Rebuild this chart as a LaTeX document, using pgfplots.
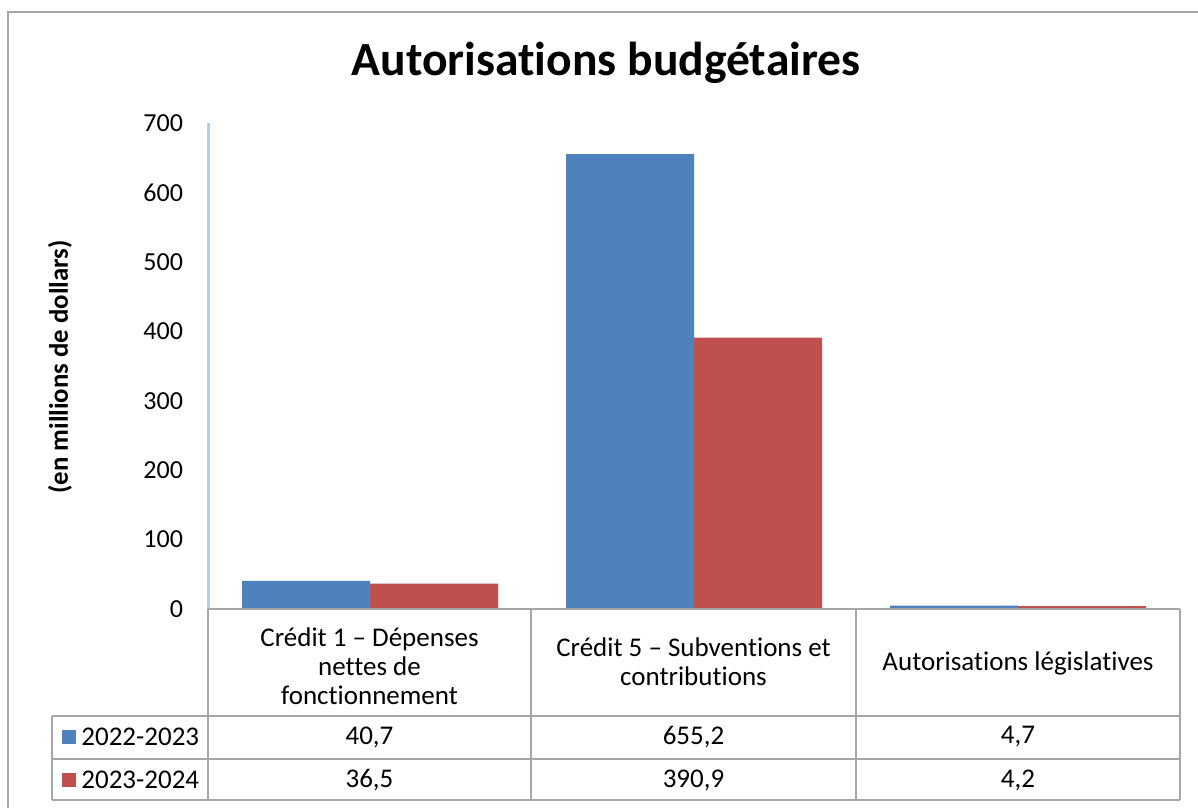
\documentclass[border=0pt]{standalone}
\usepackage{fontspec}
\setmainfont{Carlito}[Ligatures=CommonOff]
\usepackage{pgfplots}
\pgfplotsset{compat=1.18}

\definecolor{bleu}{HTML}{4F81BD}
\definecolor{rouge}{HTML}{C0504D}
\definecolor{trait}{HTML}{A6A6A6}
\definecolor{axe}{HTML}{B9CDE5}

% valeurs (en millions de dollars)
\pgfplotstableread{
x v
0 40.7
1 655.2
2 4.7
}\anneeA
\pgfplotstableread{
x v
0 36.5
1 390.9
2 4.2
}\anneeB

\begin{document}
\begin{tikzpicture}
% cadre, titre, libelle de l'axe (unites : pixels de la reference)
\begin{scope}[x=0.5pt,y=-0.5pt]
  \path[use as bounding box] (0,0) rectangle (1198,808);
  \draw[trait, line width=1pt] (8,808) -- (8,12) -- (1198,12);
  \node[font=\bfseries\fontsize{23.8}{28}\selectfont] at (606,63) {Autorisations budgétaires};
  \node[rotate=90, font=\bfseries\fontsize{13.4}{15}\selectfont] at (60,367) {(en millions de dollars)};
\end{scope}

\begin{axis}[
    at={(104pt,-304.5pt)}, anchor=south west,
    scale only axis, width=486pt, height=243pt,
    xmin=-0.5, xmax=2.5,
    ymin=0, ymax=700, ytick={0,100,...,700},
    ybar=0pt, bar width=64pt,
    axis x line=none, axis y line*=left,
    y axis line style={draw=axe, line width=1.5pt, -},
    major tick length=0pt,
    yticklabel style={font=\fontsize{13}{15}\selectfont, xshift=-9pt},
    /pgf/number format/assume math mode=true,
    clip=false,
  ]
  \addplot[fill=bleu, draw=none] table[x=x, y=v] {\anneeA};
  \addplot[fill=rouge, draw=none] table[x=x, y=v] {\anneeB};
\end{axis}

% tableau de donnees sous le graphique
\begin{scope}[x=0.5pt,y=-0.5pt]
  \begin{scope}[trait, line width=1pt]
    \draw (208,609) -- (1180,609);
    \draw (52,716) -- (1180,716);
    \draw (52,759) -- (1180,759);
    \draw (52,800) -- (1180,800);
    \foreach \x in {208,531,856,1180} \draw (\x,609) -- (\x,800);
    \draw (52,716) -- (52,800);
  \end{scope}
  \begin{scope}[every node/.style={font=\fontsize{13.5}{14.5}\selectfont, align=center, inner sep=0pt}]
    \node at (369.5,666) {Crédit 1 – Dépenses\\nettes de\\fonctionnement};
    \node at (693.5,662) {Crédit 5 – Subventions et\\contributions};
    \node at (1018,663) {Autorisations législatives};
    \node at (369.5,737) {40,7};
    \node at (693.5,737) {655,2};
    \node at (1018,737) {4,7};
    \node at (369.5,780) {36,5};
    \node at (693.5,780) {390,9};
    \node at (1018,780) {4,2};
    \fill[bleu] (62,730) rectangle (76,744);
    \fill[rouge] (62,773) rectangle (76,787);
    \node[anchor=west] at (81,737) {2022-2023};
    \node[anchor=west] at (81,780) {2023-2024};
  \end{scope}
\end{scope}
\end{tikzpicture}
\end{document}
